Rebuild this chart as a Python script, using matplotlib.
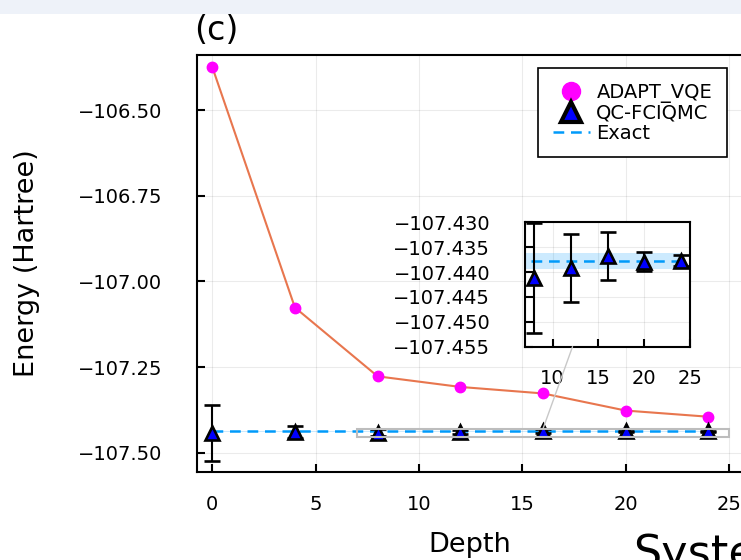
import matplotlib.pyplot as plt
import numpy as np
from matplotlib.lines import Line2D
from matplotlib.patches import Rectangle, ConnectionPatch
from matplotlib.ticker import FuncFormatter

plt.rcParams["font.family"] = "DejaVu Sans"
plt.rcParams["font.size"] = 14

depth = [0, 4, 8, 12, 16, 20, 24]
adapt_vqe = [-106.373, -107.076, -107.277, -107.308, -107.327, -107.377, -107.395]
qc_fciqmc = [-107.4424, -107.4390, -107.4412, -107.4392, -107.4367, -107.4379, -107.4377]
qc_err = [0.081, 0.018, 0.011, 0.0068, 0.0048, 0.0019, 0.0011]
exact = -107.4378
chem_acc = 0.0016

main_yticks = [-106.50, -106.75, -107.00, -107.25, -107.50]
lens_x = (7, 25)
lens_y = (-107.455, -107.430)
lens_xticks = [10, 15, 20, 25]

BLUE = '#009AFA'
ORANGE = '#E8764E'
W, H = 741, 560


def minus_fmt(nd):
    return FuncFormatter(lambda v, p: f'{v:.{nd}f}'.replace('-', '\u2212'))


def draw(a):
    a.fill_between(depth, exact - chem_acc, exact + chem_acc, color=BLUE, alpha=0.2, lw=0, zorder=2)
    a.plot(depth, [exact] * len(depth), color=BLUE, lw=1.8, dashes=(4.3, 2.7), zorder=3)
    a.plot(depth, adapt_vqe, color=ORANGE, lw=1.5, zorder=3)
    a.plot(depth, adapt_vqe, 'o', color='magenta', ms=7.5, mec='magenta', zorder=4)
    a.errorbar(depth, qc_fciqmc, yerr=qc_err, fmt='^', ms=9.5, mfc='blue', mec='black', mew=1.9,
               ecolor='black', elinewidth=1.5, capsize=5.5, capthick=1.5, zorder=5)
    a.grid(True, color='black', alpha=0.08, lw=0.8)
    a.set_axisbelow(True)
    for s in a.spines.values():
        s.set_linewidth(1.5)
    a.tick_params(direction='in', length=6, width=1.5, labelsize=14)
    a.tick_params(axis='x', pad=16)
    a.tick_params(axis='y', pad=25)


fig = plt.figure(figsize=(W / 100, H / 100), dpi=100)
fig.add_artist(Rectangle((0, 1 - 14 / H), 1, 14 / H, transform=fig.transFigure,
                         color='#eef2f9', lw=0, zorder=0))

ax = fig.add_axes([196.7 / W, 1 - 472.3 / H, 547.9 / W, 417.3 / H])
draw(ax)
ax.set_xlim(-0.75, 25.75)
ax.set_ylim(-107.5573, -106.3385)
ax.set_xticks([0, 5, 10, 15, 20, 25])
ax.set_yticks(main_yticks)
ax.yaxis.set_major_formatter(minus_fmt(2))

# zoom box around the converged region
ax.add_patch(Rectangle((lens_x[0], lens_y[0]), lens_x[1] - lens_x[0], lens_y[1] - lens_y[0],
                       fill=False, ec='#bdbdbd', lw=1.5, zorder=6))

handles = [
    Line2D([], [], ls='none', marker='o', ms=13, color='magenta'),
    Line2D([], [], ls='none', marker='^', ms=14, mfc='blue', mec='black', mew=3),
    Line2D([], [], color=BLUE, lw=1.8, dashes=(4.3, 2.7)),
]
leg = ax.legend(handles, ['ADAPT_VQE', 'QC-FCIQMC', 'Exact'], loc='upper right',
                bbox_to_anchor=(0.9673, 0.968), borderaxespad=0, fancybox=False,
                edgecolor='black', framealpha=1, fontsize=14, handlelength=1.9,
                handletextpad=0.35, labelspacing=0.05, borderpad=0.75)
leg.get_frame().set_linewidth(1.2)

axin = fig.add_axes([525 / W, 1 - 346.7 / H, 165 / W, 124.4 / H])
draw(axin)
axin.set_xlim(*lens_x)
axin.set_ylim(*lens_y)
axin.set_xticks(lens_xticks)
axin.set_yticks(np.linspace(lens_y[0], lens_y[1], 6))
axin.yaxis.set_major_formatter(minus_fmt(3))

con = ConnectionPatch(xyA=(16, lens_y[1]), coordsA=ax.transData,
                      xyB=(0.288, 0.0), coordsB=axin.transAxes,
                      color='#c8c8c8', lw=1.0)
fig.add_artist(con)

fig.text(194 / W, 1 - 31 / H, '(c)', fontsize=24, ha='left', va='center')
fig.text(27 / W, 1 - 263 / H, 'Energy (Hartree)', fontsize=19.5, rotation=90,
         ha='center', va='center')
fig.text(470 / W, 1 - 545.5 / H, 'Depth', fontsize=19.5, ha='center', va='center')
fig.text(633 / W, -7 / H, 'System', fontsize=32, ha='left', va='baseline')

fig.savefig('out.png', dpi=100)
